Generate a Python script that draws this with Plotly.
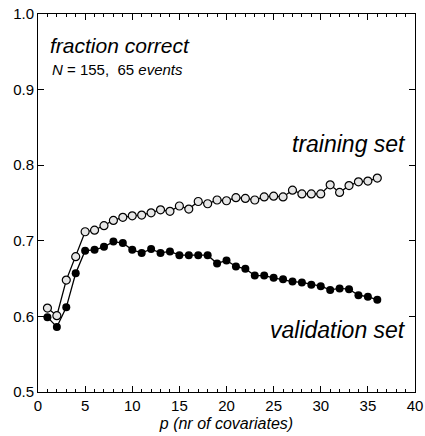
import plotly.graph_objects as go

p = list(range(1, 37))
training = [0.611, 0.601, 0.648, 0.679, 0.712, 0.714, 0.720, 0.727, 0.731, 0.733,
            0.734, 0.737, 0.741, 0.739, 0.746, 0.742, 0.752, 0.749, 0.754, 0.753,
            0.757, 0.756, 0.754, 0.758, 0.759, 0.758, 0.767, 0.762, 0.762, 0.762,
            0.774, 0.764, 0.773, 0.778, 0.779, 0.783]
validation = [0.599, 0.586, 0.612, 0.657, 0.687, 0.688, 0.692, 0.699, 0.697, 0.688,
              0.684, 0.689, 0.684, 0.686, 0.681, 0.681, 0.681, 0.681, 0.670, 0.674,
              0.666, 0.663, 0.654, 0.654, 0.651, 0.649, 0.646, 0.645, 0.642, 0.640,
              0.635, 0.637, 0.636, 0.628, 0.626, 0.622]

FONT = "Liberation Sans, Arial, sans-serif"

fig = go.Figure()
fig.add_trace(go.Scatter(x=p, y=validation, mode="lines+markers",
                         line=dict(color="black", width=1.3),
                         marker=dict(symbol="circle", size=8, color="black"),
                         showlegend=False))
fig.add_trace(go.Scatter(x=p, y=training, mode="lines+markers",
                         line=dict(color="black", width=1.3),
                         marker=dict(symbol="circle", size=8, color="#e6e6e6",
                                     line=dict(color="black", width=1.2)),
                         showlegend=False))

axis_common = dict(showline=True, linecolor="black", linewidth=1, mirror="ticks",
                   ticks="inside", tickcolor="black", ticklen=6, tickwidth=1,
                   showgrid=False, zeroline=False, automargin=False,
                   tickfont=dict(family=FONT, size=15, color="black"))

fig.update_xaxes(range=[0, 40], dtick=5, tick0=0,
                 minor=dict(dtick=1, ticks="inside", ticklen=3, tickcolor="black"),
                 title=dict(text="<i>p (nr of covariates)</i>",
                            font=dict(family=FONT, size=16, color="black"), standoff=4),
                 **axis_common)
fig.update_yaxes(range=[0.5, 1.0], dtick=0.1, tick0=0.5, tickformat=".1f",
                 **axis_common)

fig.add_annotation(x=1.1, y=0.959, xanchor="left", yanchor="middle",
                   text="<i>fraction correct</i>", showarrow=False,
                   font=dict(family=FONT, size=21, color="black"))
fig.add_annotation(x=1.3, y=0.926, xanchor="left", yanchor="middle",
                   text="<i>N</i>&nbsp;=&nbsp;155,&nbsp;&nbsp;65 <i>events</i>", showarrow=False,
                   font=dict(family=FONT, size=15, color="black"))
fig.add_annotation(x=39.3, y=0.828, xanchor="right", yanchor="middle",
                   text="<i>training set</i>", showarrow=False,
                   font=dict(family=FONT, size=23, color="black"))
fig.add_annotation(x=39.3, y=0.582, xanchor="right", yanchor="middle",
                   text="<i>validation set</i>", showarrow=False,
                   font=dict(family=FONT, size=23, color="black"))

fig.update_layout(width=425, height=436,
                  margin=dict(l=38, r=10, t=14, b=44),
                  plot_bgcolor="white", paper_bgcolor="white",
                  font=dict(family=FONT, color="black"))

fig.write_html("out.html")
